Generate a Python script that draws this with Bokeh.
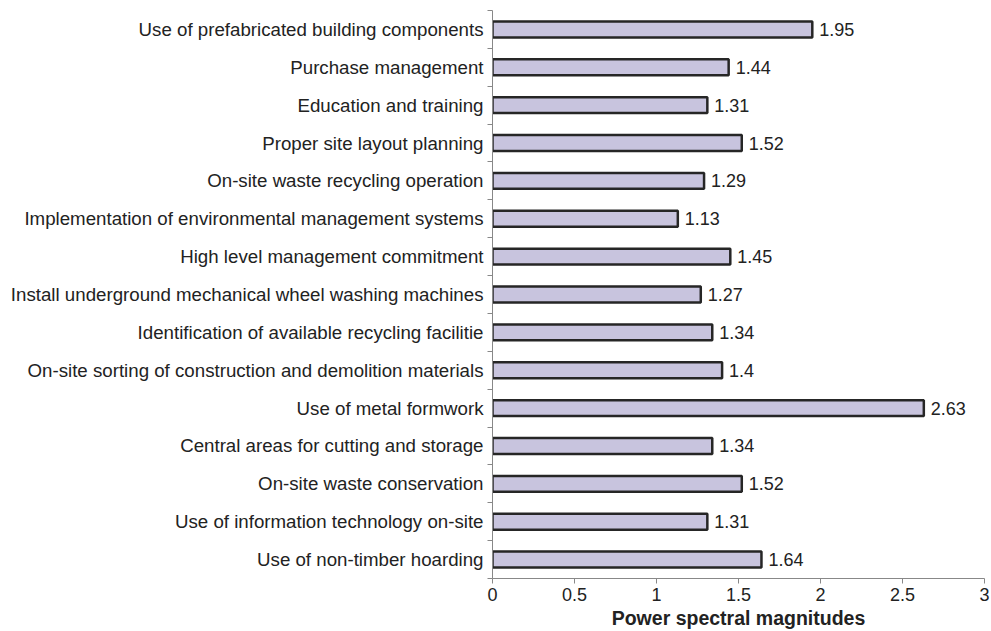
from bokeh.plotting import figure
from bokeh.models import ColumnDataSource, FixedTicker, Range1d
from bokeh.core.properties import value
from bokeh.embed import file_html
from bokeh.resources import INLINE

categories = [
    "Use of prefabricated building components",
    "Purchase management",
    "Education and training",
    "Proper site layout planning",
    "On-site waste recycling operation",
    "Implementation of environmental management systems",
    "High level management commitment",
    "Install underground mechanical wheel washing machines",
    "Identification of available recycling facilitie",
    "On-site sorting of construction and demolition materials",
    "Use of metal formwork",
    "Central areas for cutting and storage",
    "On-site waste conservation",
    "Use of information technology on-site",
    "Use of non-timber hoarding",
]
values = [1.95, 1.44, 1.31, 1.52, 1.29, 1.13, 1.45, 1.27, 1.34, 1.4, 2.63, 1.34, 1.52, 1.31, 1.64]
x_ticks = [0, 0.5, 1, 1.5, 2, 2.5, 3]
x_tick_labels = ["0", "0.5", "1", "1.5", "2", "2.5", "3"]

n = len(categories)
ys = [n - i for i in range(n)]
src = ColumnDataSource(dict(y=ys, v=values, lab=[str(v) for v in values]))

FONT = "Liberation Sans"
TXT = "#222222"

p = figure(width=991, height=631, output_backend="svg", toolbar_location=None,
           x_range=Range1d(0, 3), y_range=Range1d(0.5, n + 0.5),
           min_border_left=492, min_border_right=7, min_border_top=10, min_border_bottom=50)
p.outline_line_color = None
p.xgrid.visible = False
p.ygrid.visible = False

p.hbar(y="y", right="v", left=0, height=0.42, source=src,
       fill_color="#c8c4de", line_color="#262626", line_width=2.5)
p.text(x="v", y="y", text="lab", source=src, x_offset=7, text_baseline="middle",
       text_align="left", text_font=value(FONT), text_font_size="18px", text_color=TXT)

# y axis
ya = p.yaxis[0]
ya.ticker = FixedTicker(ticks=ys, minor_ticks=[k + 0.5 for k in range(n + 1)])
ya.major_label_overrides = {y: c for y, c in zip(ys, categories)}
ya.major_tick_line_color = None
ya.major_tick_out = 0
ya.major_tick_in = 0
ya.minor_tick_out = 5
ya.minor_tick_in = 0
ya.minor_tick_line_color = "#888888"
ya.axis_line_color = "#888888"
ya.major_label_standoff = 4
ya.major_label_text_font = FONT
ya.major_label_text_font_size = "18.7px"
ya.major_label_text_color = TXT

# x axis
xa = p.xaxis[0]
xa.ticker = FixedTicker(ticks=x_ticks, minor_ticks=[])
xa.major_label_overrides = {t: l for t, l in zip(x_ticks, x_tick_labels)}
xa.major_tick_out = 5
xa.major_tick_in = 0
xa.major_tick_line_color = "#888888"
xa.axis_line_color = "#888888"
xa.major_label_standoff = 4
xa.major_label_text_font = FONT
xa.major_label_text_font_size = "18px"
xa.major_label_text_color = TXT
xa.axis_label = "Power spectral magnitudes"
xa.axis_label_text_font = FONT
xa.axis_label_text_font_size = "19.5px"
xa.axis_label_text_font_style = "bold"
xa.axis_label_text_color = TXT
xa.axis_label_standoff = 3

open("out.html", "w").write(file_html(p, INLINE))
